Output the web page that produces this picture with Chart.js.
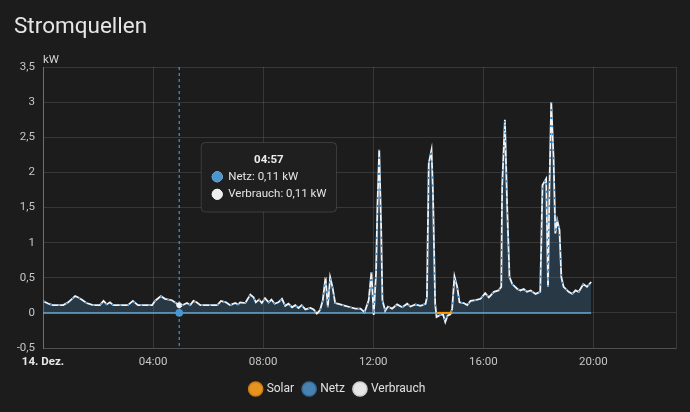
<!DOCTYPE html>
<html lang="de">
<head>
<meta charset="utf-8">
<title>Stromquellen</title>
<script src="https://cdn.jsdelivr.net/npm/chart.js@4.4.1/dist/chart.umd.min.js"></script>
<style>
    html, body { margin: 0; padding: 0; background: #1c1c1c; }
    #card { position: relative; width: 690px; height: 412px; overflow: hidden; font-family: Roboto, "Noto Sans", sans-serif; }
    #wrap { position: absolute; left: 0; top: 0; width: 690px; height: 412px; }
    #card h1 { position: absolute; left: 14px; top: 13px; margin: 0; font-size: 22.5px; line-height: 24px; font-weight: 400; color: #e6e6e6; }
</style>
</head>
<body>
<div id="card">
    <div id="wrap"><canvas id="chart"></canvas></div>
    <h1>Stromquellen</h1>
</div>
<script>
"use strict";

// ---------- Data ----------

// minutes since midnight (14. Dez.)
const TIMES = [
    0, 12, 22, 44, 55, 70, 77, 84, 95, 109, 124, 132, 139, 146, 153, 168, 185, 196, 207, 218,
    238, 244, 257, 266, 281, 292, 297, 301, 314, 321, 328, 335, 343, 380, 388, 399, 408, 419, 425, 430,
    441, 452, 459, 464, 471, 477, 484, 492, 498, 505, 513, 521, 528, 535, 543, 550, 557, 564, 572, 583,
    590, 597, 604, 610, 616, 621, 626, 631, 637, 648, 659, 670, 681, 692, 701, 710, 716, 721, 726, 729,
    733, 737, 740, 746, 752, 761, 772, 783, 794, 801, 812, 823, 834, 837, 841, 847, 850, 855, 858, 866,
    872, 877, 882, 888, 892, 897, 903, 908, 917, 925, 932, 943, 954, 964, 972, 983, 993, 999, 1001, 1007,
    1012, 1017, 1023, 1034, 1041, 1048, 1055, 1063, 1074, 1084, 1089, 1097, 1101, 1104, 1108, 1113, 1117, 1121, 1126, 1130,
    1135, 1146, 1154, 1161, 1168, 1178, 1186, 1195,
];

// kW
const VERBRAUCH = [
    0.17, 0.13, 0.11, 0.11, 0.15, 0.24, 0.22, 0.19, 0.14, 0.11, 0.11, 0.17, 0.12, 0.15, 0.11, 0.11, 0.11, 0.17, 0.11, 0.11,
    0.11, 0.17, 0.24, 0.20, 0.18, 0.13, 0.11, 0.10, 0.14, 0.11, 0.17, 0.15, 0.11, 0.11, 0.17, 0.15, 0.11, 0.14, 0.12, 0.15,
    0.14, 0.26, 0.22, 0.15, 0.19, 0.14, 0.21, 0.15, 0.19, 0.13, 0.15, 0.20, 0.10, 0.13, 0.08, 0.11, 0.07, 0.11, 0.05, 0.07,
    0.05, -0.01, 0.04, 0.18, 0.51, 0.08, 0.51, 0.37, 0.14, 0.12, 0.10, 0.08, 0.06, 0.06, 0.01, 0.18, 0.58, -0.03, 0.56, 1.50,
    2.32, 1.27, 0.18, 0.03, 0.09, 0.06, 0.12, 0.08, 0.13, 0.09, 0.12, 0.10, 0.13, 0.22, 2.13, 2.32, 1.75, 0.13, -0.06, -0.03,
    -0.02, -0.13, -0.04, -0.02, 0.06, 0.52, 0.37, 0.15, 0.14, 0.11, 0.17, 0.18, 0.20, 0.28, 0.22, 0.30, 0.32, 0.37, 1.80, 2.75,
    1.50, 0.51, 0.41, 0.34, 0.32, 0.34, 0.30, 0.32, 0.27, 0.30, 1.82, 1.91, 0.37, 1.75, 3.00, 2.22, 1.13, 1.32, 1.18, 0.51,
    0.37, 0.30, 0.27, 0.32, 0.30, 0.41, 0.37, 0.44,
];

// no solar production: the grid line sits right on top of consumption
const NETZ = VERBRAUCH.slice();

// short solar segment around 14:30
const SOLAR_TIMES = [858, 892];
const SOLAR = [0, 0];

// zero line under the grid area
const BASE_TIMES = [0, 1195];
const BASE = [0, 0];

const X_TICKS = [0, 240, 480, 720, 960, 1200, 1380];
const X_MAX = 1380;
const Y_MIN = -0.5;
const Y_MAX = 3.5;
const Y_STEP = 0.5;

const TOOLTIP_TIME = 297; // 04:57

const LEGEND_COLORS = {
    Solar: { fill: "#e6931f", border: "#c97d12" },
    Netz: { fill: "#4683b4", border: "#386d98" },
    Verbrauch: { fill: "#e6e6e6", border: "#cfcfcf" },
};

// ---------- Helpers ----------

const toPoints = (xs, ys) => xs.map((x, i) => ({ x, y: ys[i] }));
const fmtNum = (v) => String(Math.round(v * 100) / 100).replace(".", ",");
const pad2 = (n) => String(n).padStart(2, "0");
const fmtTime = (m) => pad2(Math.floor(m / 60)) + ":" + pad2(m % 60);

// ---------- Chart ----------

Chart.defaults.font.family = "Roboto, 'Noto Sans', sans-serif";
Chart.defaults.color = "#c6c6c6";

Chart.Tooltip.positioners.besidePoint = function (items) {
    if (!items.length) return false;
    const el = items[0].element;
    return { x: el.x + 22, y: this.chart.scales.y.getPixelForValue(1.93), xAlign: "left", yAlign: "center" };
};

const overlay = {
    id: "overlay",
    beforeDatasetsDraw(chart) {
        const active = chart.tooltip.getActiveElements();
        if (!active.length) return;
        const { ctx, chartArea } = chart;
        const x = active[0].element.x;
        ctx.save();
        ctx.strokeStyle = "#3399e6";
        ctx.lineWidth = 1.2;
        ctx.setLineDash([3, 3]);
        ctx.beginPath();
        ctx.moveTo(x, chartArea.top);
        ctx.lineTo(x, chartArea.bottom);
        ctx.stroke();
        ctx.restore();
    },
    afterDatasetsDraw(chart) {
        const active = chart.tooltip.getActiveElements();
        if (!active.length) return;
        const { ctx } = chart;
        ctx.save();
        ctx.fillStyle = "#4a97d0";
        ctx.beginPath();
        ctx.arc(active[0].element.x, chart.scales.y.getPixelForValue(0), 3.8, 0, Math.PI * 2);
        ctx.fill();
        ctx.restore();
    },
    afterDraw(chart) {
        const { ctx, chartArea } = chart;
        ctx.save();
        ctx.font = "11.5px Roboto";
        ctx.fillStyle = "#d4d4d4";
        ctx.textAlign = "left";
        ctx.textBaseline = "alphabetic";
        ctx.fillText("kW", chartArea.left, chartArea.top - 4);
        ctx.restore();
    },
};

const chart = new Chart(document.getElementById("chart"), {
    type: "line",
    data: {
        datasets: [
            {
                label: "Solar",
                data: toPoints(SOLAR_TIMES, SOLAR),
                borderColor: "#ff9800",
                borderWidth: 2,
                pointRadius: 0,
                pointHoverRadius: 0,
                fill: false,
            },
            {
                label: "Netz",
                data: toPoints(TIMES, NETZ),
                borderColor: "#2f8ad2",
                borderWidth: 1.3,
                borderDash: [2, 6],
                backgroundColor: "rgba(70, 120, 160, 0.31)",
                pointRadius: 0,
                pointHoverRadius: 0,
                fill: "origin",
            },
            {
                label: "Verbrauch",
                data: toPoints(TIMES, VERBRAUCH),
                borderColor: "#f4f4f4",
                borderWidth: 1.8,
                pointRadius: 0,
                pointHoverRadius: 2.5,
                pointHoverBackgroundColor: "#f4f4f4",
                pointHoverBorderColor: "#f4f4f4",
                pointHoverBorderWidth: 1,
                fill: false,
            },
            {
                label: "",
                data: toPoints(BASE_TIMES, BASE),
                borderColor: "#66a7cc",
                borderWidth: 1.5,
                pointRadius: 0,
                pointHoverRadius: 0,
                fill: false,
            },
        ],
    },
    options: {
        responsive: true,
        maintainAspectRatio: false,
        animation: false,
        events: [],
        layout: { padding: { top: 67, right: 14, bottom: 7, left: 0 } },
        elements: { line: { tension: 0 } },
        scales: {
            x: {
                type: "linear",
                min: 0,
                max: X_MAX,
                afterBuildTicks: (scale) => {
                    scale.ticks = X_TICKS.map((v) => ({ value: v }));
                },
                afterFit: (scale) => {
                    scale.height = 25;
                },
                grid: { color: "rgba(255,255,255,0.12)", drawTicks: false },
                border: { color: "rgba(255,255,255,0.12)" },
                ticks: {
                    padding: 7,
                    maxRotation: 0,
                    autoSkip: false,
                    color: (ctx) => (ctx.tick && ctx.tick.value === 0 ? "#e8e8e8" : "#c6c6c6"),
                    font: (ctx) => ({ size: 11.5, weight: ctx.tick && ctx.tick.value === 0 ? "bold" : "normal" }),
                    callback: (v) => {
                        if (v === 0) return "14. Dez.";
                        if (v % 240 !== 0) return "";
                        return fmtTime(v);
                    },
                },
            },
            y: {
                min: Y_MIN,
                max: Y_MAX,
                afterFit: (scale) => {
                    scale.width = 43;
                },
                grid: { color: "rgba(255,255,255,0.12)", drawTicks: false },
                border: { color: "rgba(255,255,255,0.28)" },
                ticks: {
                    stepSize: Y_STEP,
                    padding: 8,
                    font: { size: 11.5 },
                    callback: (v) => fmtNum(v),
                },
            },
        },
        plugins: {
            filler: { drawTime: "beforeDatasetsDraw" },
            legend: {
                position: "bottom",
                labels: {
                    usePointStyle: true,
                    boxWidth: 10,
                    boxHeight: 10,
                    padding: 10,
                    color: "#e1e1e1",
                    font: { size: 12 },
                    generateLabels: (c) => {
                        const items = Chart.defaults.plugins.legend.labels.generateLabels(c);
                        return items
                            .filter((it) => LEGEND_COLORS[it.text])
                            .map((it) =>
                                Object.assign(it, {
                                    fillStyle: LEGEND_COLORS[it.text].fill,
                                    strokeStyle: LEGEND_COLORS[it.text].border,
                                    lineWidth: 1.5,
                                    lineDash: [],
                                    pointStyle: "circle",
                                    fontColor: "#e1e1e1",
                                })
                            );
                    },
                },
            },
            tooltip: {
                position: "besidePoint",
                backgroundColor: "#1f1f1f",
                borderColor: "rgba(255,255,255,0.14)",
                borderWidth: 1,
                cornerRadius: 4,
                caretSize: 0,
                caretPadding: 0,
                padding: { top: 12, bottom: 12, left: 11, right: 10 },
                titleAlign: "center",
                titleColor: "#ececec",
                titleFont: { size: 11.5, weight: "bold", lineHeight: 1 },
                titleMarginBottom: 5,
                bodyColor: "#e4e4e4",
                bodyFont: { size: 11.5, lineHeight: 1 },
                bodySpacing: 6,
                usePointStyle: true,
                boxWidth: 10,
                boxHeight: 10,
                boxPadding: 4,
                callbacks: {
                    title: (items) => fmtTime(items[0].parsed.x),
                    label: (item) => `${item.dataset.label}: ${fmtNum(item.parsed.y)} kW`,
                    labelColor: (item) => {
                        const fill = item.dataset.label === "Netz" ? "#4a97d0" : "#eeeeee";
                        return { backgroundColor: fill, borderColor: fill, borderWidth: 0 };
                    },
                    labelPointStyle: () => ({ pointStyle: "circle", rotation: 0 }),
                },
            },
        },
    },
    plugins: [overlay],
});

// ---------- Tooltip at 04:57 ----------

const tipIndex = TIMES.indexOf(TOOLTIP_TIME);
chart.setActiveElements([{ datasetIndex: 2, index: tipIndex }]);
chart.tooltip.setActiveElements(
    [
        { datasetIndex: 1, index: tipIndex },
        { datasetIndex: 2, index: tipIndex },
    ],
    { x: 0, y: 0 }
);
chart.update();
</script>
</body>
</html>
